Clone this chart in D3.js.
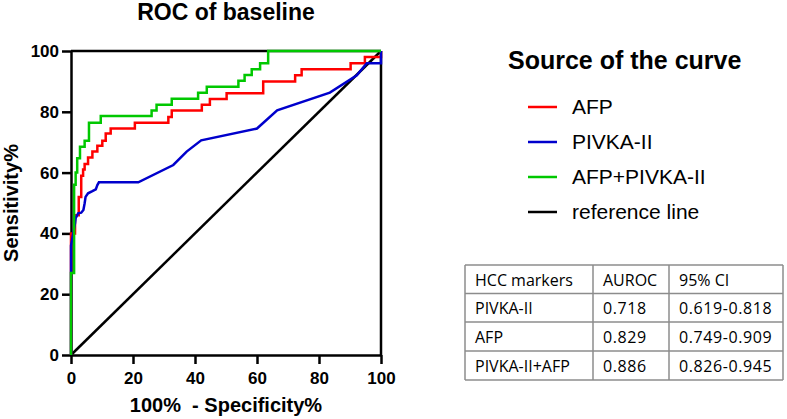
<!DOCTYPE html>
<html>
<head>
<meta charset="utf-8">
<script src="https://cdn.jsdelivr.net/npm/d3@7"></script>
<style>
  html, body { margin: 0; padding: 0; background: #fff; }
  svg { display: block; }
</style>
</head>
<body>
<svg id="chart" width="787" height="419"></svg>
<script>
// ---- data ----
const xTicks = [0, 20, 40, 60, 80, 100];
const yTicks = [0, 20, 40, 60, 80, 100];

const afpX = [0, 0, 1.3, 1.3, 2.5, 2.5, 3.3, 3.3, 3.9, 3.9, 4.4, 4.4, 5.5, 5.5, 6.9, 6.9, 8.5, 8.5, 10.1, 10.1, 11.2, 11.2, 12.8, 12.8, 20.6, 20.6, 31.4, 31.4, 32.5, 32.5, 42.2, 42.2, 44.8, 44.8, 50.2, 50.2, 62, 62, 72.3, 72.3, 74.4, 74.4, 90.2, 90.2, 94.8, 94.8, 100, 100];
const afpY = [0, 40, 40, 46, 46, 52, 52, 59, 59, 61, 61, 62.8, 62.8, 65, 65, 66.9, 66.9, 68.8, 68.8, 70.5, 70.5, 72.9, 72.9, 74.5, 74.5, 76.4, 76.4, 78.3, 78.3, 80.4, 80.4, 82.3, 82.3, 84.2, 84.2, 86.1, 86.1, 90, 90, 92, 92, 94, 94, 96, 96, 98, 98, 100];

const pivkaX = [0, 0, 1.3, 1.5, 2.3, 3.3, 4.0, 4.4, 4.7, 5.5, 6.9, 8.0, 8.5, 9.0, 21.7, 33.0, 37.3, 42.0, 60.0, 66.5, 83.5, 92.2, 95.4, 100, 100];
const pivkaY = [0, 36, 43.3, 45, 46.6, 46.8, 47.7, 49.9, 52, 53.2, 53.9, 54.5, 55.9, 56.8, 56.8, 62.5, 66.9, 70.6, 74.5, 80.5, 86.3, 92, 96, 96, 100];

const comboX = [0, 0, 1, 1, 1.5, 1.5, 2, 2, 2.9, 2.9, 4.4, 4.4, 5.8, 5.8, 9.6, 9.6, 26, 26, 27.6, 27.6, 32.5, 32.5, 41, 41, 43.8, 43.8, 54, 54, 56, 56, 58.3, 58.3, 61, 61, 63.6, 63.6, 100];
const comboY = [0, 27, 27, 56, 56, 60, 60, 64.7, 64.7, 68.5, 68.5, 70.5, 70.5, 76.4, 76.4, 78.6, 78.6, 80.4, 80.4, 82.3, 82.3, 84.3, 84.3, 86.3, 86.3, 88.2, 88.2, 90.2, 90.2, 92.1, 92.1, 94, 94, 96, 96, 100, 100];

const refX = [0, 100];
const refY = [0, 100];

const legendLabels = ["AFP", "PIVKA-II", "AFP+PIVKA-II", "reference line"];
const legendColors = ["#ff0000", "#0000cc", "#00c800", "#000000"];

const tableHeader = ["HCC markers", "AUROC", "95% CI"];
const tableMarkers = ["PIVKA-II", "AFP", "PIVKA-II+AFP"];
const tableAuroc = ["0.718", "0.829", "0.886"];
const tableCI = ["0.619-0.818", "0.749-0.909", "0.826-0.945"];

// ---- drawing ----
const svg = d3.select("#chart");
const FONT = "'Liberation Sans', Arial, Helvetica, sans-serif";

const x = d3.scaleLinear().domain([0, 100]).range([71, 381]);
const y = d3.scaleLinear().domain([0, 100]).range([355, 51]);

// title
svg.append("text")
  .attr("x", 226).attr("y", 20)
  .attr("text-anchor", "middle")
  .style("font-family", FONT).style("font-weight", "bold").style("font-size", "23px")
  .text("ROC of baseline");

// axes
const xAxis = svg.append("g")
  .attr("transform", `translate(0,${y(0)})`)
  .call(d3.axisBottom(x).tickValues(xTicks).tickSize(9).tickPadding(8).tickSizeOuter(0));
const yAxis = svg.append("g")
  .attr("transform", `translate(${x(0)},0)`)
  .call(d3.axisLeft(y).tickValues(yTicks).tickSize(9).tickPadding(3).tickSizeOuter(0));

[xAxis, yAxis].forEach(g => {
  g.selectAll("path.domain").attr("stroke", "#000").attr("stroke-width", 2.5);
  g.selectAll(".tick line").attr("stroke", "#000").attr("stroke-width", 2.5);
  g.selectAll(".tick text")
    .attr("fill", "#000")
    .style("font-family", FONT).style("font-weight", "bold").style("font-size", "17px");
});

// top and right frame
svg.append("line")
  .attr("x1", x(0)).attr("x2", x(100)).attr("y1", y(100)).attr("y2", y(100))
  .attr("stroke", "#000").attr("stroke-width", 2.5);
svg.append("line")
  .attr("x1", x(100)).attr("x2", x(100)).attr("y1", y(0)).attr("y2", y(100))
  .attr("stroke", "#000").attr("stroke-width", 2.5);

// axis titles
svg.append("text")
  .attr("x", 226).attr("y", 412)
  .attr("text-anchor", "middle")
  .style("font-family", FONT).style("font-weight", "bold").style("font-size", "20px")
  .attr("xml:space", "preserve")
  .text("100%  - Specificity%");

svg.append("text")
  .attr("transform", `translate(18,${(y(0) + y(100)) / 2}) rotate(-90)`)
  .attr("text-anchor", "middle")
  .style("font-family", FONT).style("font-weight", "bold").style("font-size", "20px")
  .text("Sensitivity%");

// curves
const line = d3.line().x(d => x(d[0])).y(d => y(d[1]));
function drawSeries(xs, ys, color) {
  svg.append("path")
    .datum(xs.map((v, i) => [v, ys[i]]))
    .attr("d", line)
    .attr("fill", "none")
    .attr("stroke", color)
    .attr("stroke-width", 2.5)
    .attr("stroke-linejoin", "miter");
}
drawSeries(refX, refY, legendColors[3]);
drawSeries(afpX, afpY, legendColors[0]);
drawSeries(pivkaX, pivkaY, legendColors[1]);
drawSeries(comboX, comboY, legendColors[2]);

// legend
svg.append("text")
  .attr("x", 508).attr("y", 69)
  .style("font-family", FONT).style("font-weight", "bold").style("font-size", "25px")
  .text("Source of the curve");

const legendY = [107, 142, 177, 212];
const lg = svg.append("g");
legendLabels.forEach((lab, i) => {
  lg.append("line")
    .attr("x1", 528).attr("x2", 557)
    .attr("y1", legendY[i]).attr("y2", legendY[i])
    .attr("stroke", legendColors[i]).attr("stroke-width", 2.5);
  lg.append("text")
    .attr("x", 572).attr("y", legendY[i] + 7)
    .style("font-family", FONT).style("font-size", "21px")
    .attr("fill", "#000")
    .text(lab);
});

// table
const tLeft = 465, tRight = 783;
const colX = [465, 593, 669, 783];
const rowY = [265, 293.5, 322, 351, 380];
const tg = svg.append("g");
const rows = [tableHeader].concat(tableMarkers.map((m, i) => [m, tableAuroc[i], tableCI[i]]));
rowY.forEach(v => {
  tg.append("line").attr("x1", tLeft).attr("x2", tRight).attr("y1", v).attr("y2", v)
    .attr("stroke", "#8c8c8c").attr("stroke-width", 1.5);
});
colX.forEach(v => {
  tg.append("line").attr("x1", v).attr("x2", v).attr("y1", rowY[0]).attr("y2", rowY[rowY.length - 1])
    .attr("stroke", "#8c8c8c").attr("stroke-width", 1.5);
});
rows.forEach((r, ri) => {
  r.forEach((cell, ci) => {
    tg.append("text")
      .attr("x", colX[ci] + 10)
      .attr("y", rowY[ri] + 20.5)
      .style("font-family", "'Open Sans', 'Noto Sans', sans-serif")
      .style("font-size", "16px")
      .style("letter-spacing", ri > 0 && ci > 0 ? "0.6px" : "0px")
      .attr("fill", "#000")
      .text(cell);
  });
});
</script>
</body>
</html>
